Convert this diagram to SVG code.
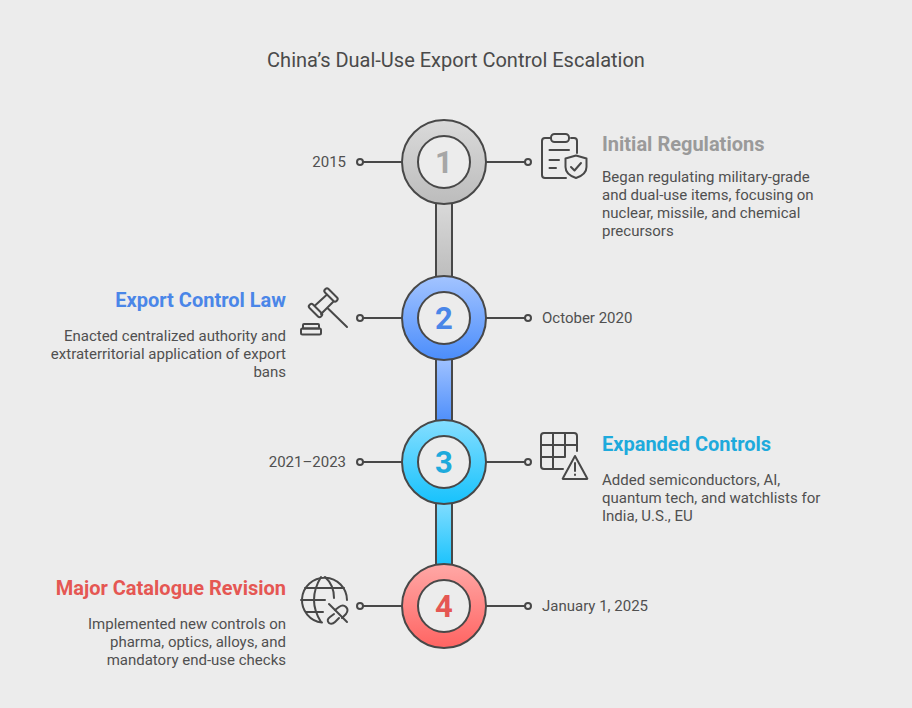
<svg xmlns="http://www.w3.org/2000/svg" width="912" height="708" viewBox="0 0 912 708">
<style>
text{font-family:Roboto,"Liberation Sans",sans-serif}
.t{font-size:20px;fill:#4a4a4a;text-anchor:middle}
.b{font-size:15px;fill:#505050}
.e{text-anchor:end}
.h{font-size:20px;font-weight:700}
.n{font-size:31px;font-weight:700;text-anchor:middle}
.l{fill:none;stroke:#484848;stroke-width:2}
.i{fill:none;stroke:#484848;stroke-width:2;stroke-linecap:round;stroke-linejoin:round}
.d{fill:#ececec;stroke:#484848;stroke-width:2}
.o{stroke:#484848;stroke-width:2}
.c{fill:#ececec;stroke:#484848;stroke-width:2}
</style>
<defs>
<linearGradient id="g1" x1="0" y1="0" x2="0" y2="1"><stop offset="0" stop-color="#dadada"/><stop offset="1" stop-color="#bcbcbc"/></linearGradient>
<linearGradient id="g2" x1="0" y1="0" x2="0" y2="1"><stop offset="0" stop-color="#a3c4ff"/><stop offset="1" stop-color="#4b8dfb"/></linearGradient>
<linearGradient id="g3" x1="0" y1="0" x2="0" y2="1"><stop offset="0" stop-color="#85deff"/><stop offset="1" stop-color="#17c2fc"/></linearGradient>
<linearGradient id="g4" x1="0" y1="0" x2="0" y2="1"><stop offset="0" stop-color="#ffa8a6"/><stop offset="1" stop-color="#ff6462"/></linearGradient>
</defs>
<rect width="912" height="708" fill="#ececec"/>
<text class="t" x="456" y="67">China’s Dual-Use Export Control Escalation</text>
<g id="connectors">
<rect class="o" x="436" y="200" width="16" height="80" fill="url(#g1)"/>
<rect class="o" x="436" y="356" width="16" height="68" fill="url(#g2)"/>
<rect class="o" x="436" y="500" width="16" height="68" fill="url(#g3)"/>
<path class="l" d="M363 162H402M486 162H525M363 318H402M486 318H525M363 462H402M486 462H525M363 606H402M486 606H525"/>
<circle class="d" cx="360" cy="162" r="3"/><circle class="d" cx="528" cy="162" r="3"/>
<circle class="d" cx="360" cy="318" r="3"/><circle class="d" cx="528" cy="318" r="3"/>
<circle class="d" cx="360" cy="462" r="3"/><circle class="d" cx="528" cy="462" r="3"/>
<circle class="d" cx="360" cy="606" r="3"/><circle class="d" cx="528" cy="606" r="3"/>
</g>
<g id="node1">
<circle class="o" cx="444" cy="162" r="42" fill="url(#g1)"/><circle class="c" cx="444" cy="162" r="26"/>
<text class="n" x="444" y="173" fill="#a6a6a6">1</text>
<text class="b e" x="346" y="167">2015</text>
<g class="i">
<path d="M551 138H545Q542 138 542 141V175Q542 178 545 178H566"/>
<path d="M571 138H574Q577 138 577 141V153"/>
<rect x="551" y="134" width="18" height="8" rx="3.500"/>
<path d="M549.500 150H569M549.500 160H559M549.500 168H556"/>
<path d="M565.500 158.500L576 155.500L586.500 158.500V167Q586.500 174.500 576 178Q565.500 174.500 565.500 167Z"/>
<path d="M571 167L574.500 170.500L581 163"/>
</g>
<text class="h" x="602" y="151" fill="#9a9a9a">Initial Regulations</text>
<text class="b" x="602" y="182">Began regulating military-grade</text>
<text class="b" x="602" y="200">and dual-use items, focusing on</text>
<text class="b" x="602" y="218">nuclear, missile, and chemical</text>
<text class="b" x="602" y="236">precursors</text>
</g>
<g id="node2">
<circle class="o" cx="444" cy="318" r="42" fill="url(#g2)"/><circle class="c" cx="444" cy="318" r="26"/>
<text class="n" x="444" y="329" fill="#4a86e8">2</text>
<text class="b" x="542" y="323">October 2020</text>
<g class="i">
<path d="M328.500 289L337 297.500Q338.500 299 337 300.500L336.500 301Q335 302.500 333.500 301L325 292.500Q323.500 291 325 289.500L325.500 289Q327 287.500 328.500 289Z"/>
<path d="M313 304.500L321.500 313Q323 314.500 321.500 316L321 316.500Q319.500 318 318 316.500L309.500 308Q308 306.500 309.500 305L310 304.500Q311.500 303 313 304.500Z"/>
<path d="M326.500 295L315 305.500M333 302L321 314M328 308.500L347 327"/>
<path d="M304 324H318Q319 324 319 325V328.500H303V325Q303 324 304 324Z"/>
<rect x="301" y="328.500" width="20" height="6" rx="1.500"/>
</g>
<text class="h e" x="286" y="307" fill="#4a86e8">Export Control Law</text>
<text class="b e" x="286" y="341">Enacted centralized authority and</text>
<text class="b e" x="286" y="359">extraterritorial application of export</text>
<text class="b e" x="286" y="377">bans</text>
</g>
<g id="node3">
<circle class="o" cx="444" cy="462" r="42" fill="url(#g3)"/><circle class="c" cx="444" cy="462" r="26"/>
<text class="n" x="444" y="473" fill="#1eaadc">3</text>
<text class="b e" x="346" y="467">2021–2023</text>
<g class="i">
<path d="M563 469H544Q541 469 541 466V436Q541 433 544 433H574Q577 433 577 436V451"/>
<path d="M541 445H577M541 457H565M553 433V469M565 433V457"/>
<path d="M575 456L587 478Q588 479 586 479H564Q562 479 563 478Z"/>
<path d="M575 463V471"/>
<path d="M575 474.500V475"/>
</g>
<text class="h" x="602" y="451" fill="#1eaadc">Expanded Controls</text>
<text class="b" x="602" y="485">Added semiconductors, AI,</text>
<text class="b" x="602" y="503">quantum tech, and watchlists for</text>
<text class="b" x="602" y="521">India, U.S., EU</text>
</g>
<g id="node4">
<circle class="o" cx="444" cy="606" r="42" fill="url(#g4)"/><circle class="c" cx="444" cy="606" r="26"/>
<text class="n" x="444" y="617" fill="#e55753">4</text>
<text class="b" x="542" y="611">January 1, 2025</text>
<g class="i">
<path d="M347 600A22.500 22.500 0 1 0 322 622.500"/>
<path d="M321 577Q307 600 321 622M325 577Q334 585 334 598"/>
<path d="M305 588H344M301 600H325M306 612H323"/>
<path d="M329 604L347 622"/>
<path d="M335 610L339 607Q343 604 346 607Q349 610 346 614L342 618"/>
<path d="M334 614L330 617Q326 620 329 623Q332 625 335 622L339 618"/>
</g>
<text class="h e" x="286" y="595" fill="#e55753">Major Catalogue Revision</text>
<text class="b e" x="286" y="629">Implemented new controls on</text>
<text class="b e" x="286" y="647">pharma, optics, alloys, and</text>
<text class="b e" x="286" y="665">mandatory end-use checks</text>
</g>
</svg>
